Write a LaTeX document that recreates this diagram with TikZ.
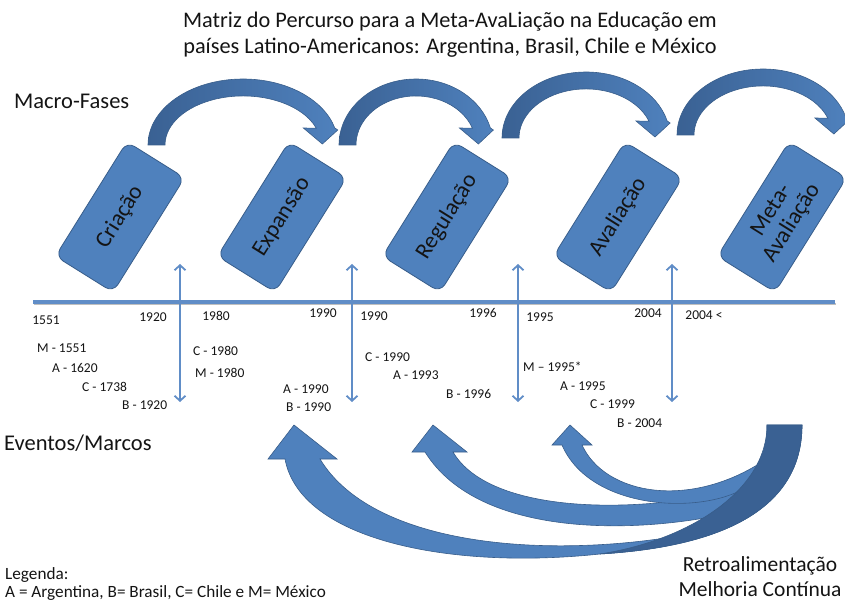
\documentclass[tikz,border=0pt]{standalone}
\usepackage{fontspec}
\setmainfont{Carlito}
\usetikzlibrary{arrows.meta, positioning, calc}
\definecolor{faseblue}{RGB}{79,129,189}
\definecolor{faseline}{RGB}{56,93,138}
\definecolor{arcdark}{RGB}{58,97,147}
\definecolor{marcoblue}{RGB}{96,141,199}
\definecolor{textdark}{RGB}{20,20,20}

% curved block arrow over the phases: centre x, base y, x radius
\newcommand{\arcoseta}[3]{%
  \pgfmathsetmacro{\xout}{#1+0.966*#3}
  \pgfmathsetmacro{\xin}{#1+0.94*(#3-17)}
  \pgfmathsetmacro{\rin}{#3-17}
  \path[draw=faseline, line width=0.6pt, left color=arcdark, right color=faseblue]
    (#1-#3,#2) arc[start angle=180, end angle=345, x radius=#3, y radius=66]
    -- (\xout+3,#2-15) -- (\xin+6,#2-1) -- (\xin-13,#2-17) -- (\xin,#2-16.8)
    arc[start angle=340, end angle=180, x radius=\rin, y radius=49] -- cycle;
}

\begin{document}
\begin{tikzpicture}[x=1pt, y=-1pt,
    fase/.style={draw=faseline, fill=faseblue, line width=0.8pt, rounded corners=9pt,
      minimum width=135pt, minimum height=68pt, rotate=58, align=center,
      text=textdark, font=\fontsize{23}{24}\selectfont},
    marco/.style={draw=marcoblue, line width=1.8pt,
      {Straight Barb[length=5pt,width=11pt]}-{Straight Barb[length=5pt,width=11pt]}},
    ano/.style={text=textdark, font=\fontsize{13.5}{15}\selectfont, inner sep=0pt},
    evento/.style={text=textdark, font=\fontsize{13.5}{15}\selectfont, inner sep=0pt, anchor=west},
    rotulo/.style={text=textdark, font=\fontsize{22.5}{26}\selectfont, inner sep=0pt, anchor=west},
    seta/.style={draw=faseline, line width=0.6pt, fill=faseblue}]
  \useasboundingbox (0,0) rectangle (845,601);

  % Title
  \node[text=textdark, align=center, font=\fontsize{22.3}{26}\selectfont] (titulo) at (450,35)
    {Matriz do Percurso para a Meta-AvaLiação na Educação em\\países Latino-Americanos: Argentina, Brasil, Chile e México};

  % Side labels
  \node[rotulo] (macro) at (14,101) {Macro-Fases};
  \node[rotulo] (eventos) at (4,443) {Eventos/Marcos};

  % Arrows between phases
  \arcoseta{243}{145}{95}
  \arcoseta{416}{145}{77}
  \arcoseta{586}{138}{84}
  \arcoseta{763}{135}{86}

  % Macro phases
  \foreach \cx/\txt [count=\i] in {120/Criação, 282/Expansão, 447/Regulação, 618/Avaliação, 782/{Meta-\\Avaliação}} {
    \node[fase] (fase\i) at (\cx,217) {\txt};
  }

  % Time line
  \coordinate (linha-ini) at (33,302);
  \coordinate (linha-fim) at (835,302);
  \draw[black!25, line width=2pt] ($(linha-ini)+(1,2)$) -- ($(linha-fim)+(1,2)$);
  \draw[marcoblue, line width=3pt] (linha-ini) -- (linha-fim);

  % Milestones
  \foreach \x [count=\i] in {180,352,518,672} {
    \coordinate (sup\i) at (\x,264);
    \coordinate (inf\i) at (\x,402);
    \draw[marco] (sup\i) -- (inf\i);
  }

  % Years on the line
  \foreach \x/\y/\txt [count=\i] in {46/320/1551, 153/317/1920, 216/316/1980, 323/313/1990,
      374/316/1990, 483/313/1996, 540/317/1995, 648/313/2004, 704/315/{2004 <}} {
    \node[ano] (ano\i) at (\x,\y) {\txt};
  }

  % Events per country
  \foreach \x/\y/\txt [count=\i] in {37/348/M - 1551, 52/368/A - 1620, 82/387/C - 1738,
      122/405/B - 1920, 193/351/C - 1980, 195/373/M - 1980, 283/389/A - 1990,
      286/407/B - 1990, 365/357/C - 1990, 393/375/A - 1993, 446/394/B - 1996,
      523/367/M – 1995*, 560/386/A - 1995, 590/404/C - 1999, 617/423/B - 2004} {
    \node[evento] (ev\i) at (\x,\y) {\txt};
  }

  % Feedback arrows
  \filldraw[seta] (802,425) .. controls (802,520) and (700,548) .. (600,554)
    .. controls (450,570) and (300,540) .. (285,459)
    -- (268,459) -- (294,425) -- (337,459) -- (320,459)
    .. controls (375,550) and (560,560) .. (700,532)
    .. controls (750,505) and (767,470) .. (767,425) -- cycle;
  \filldraw[seta] (720,515) .. controls (640,532) and (480,540) .. (425,452)
    -- (412,452) -- (433,425) -- (467,452) -- (453,452)
    .. controls (490,515) and (640,515) .. (745,488) -- cycle;
  \filldraw[seta] (745,488) .. controls (700,515) and (590,510) .. (562,445)
    -- (552,445) -- (570,425) -- (592,445) -- (582,445)
    .. controls (605,495) and (690,510) .. (765,460) -- cycle;
  \filldraw[draw=faseline, line width=0.6pt, fill=arcdark]
    (802,425) .. controls (802,520) and (700,548) .. (600,554)
    .. controls (690,540) and (767,490) .. (767,425) -- cycle;

  % Feedback label
  \node[text=textdark, align=center, font=\fontsize{21.5}{25}\selectfont] (retro) at (760,577)
    {Retroalimentação\\Melhoria Contínua};

  % Legend
  \node[text=textdark, align=left, anchor=north west, inner sep=0pt,
    font=\fontsize{17.2}{18.5}\selectfont] (legenda) at (5,567)
    {Legenda:\\A = Argentina, B= Brasil, C= Chile e M= México};
\end{tikzpicture}
\end{document}
